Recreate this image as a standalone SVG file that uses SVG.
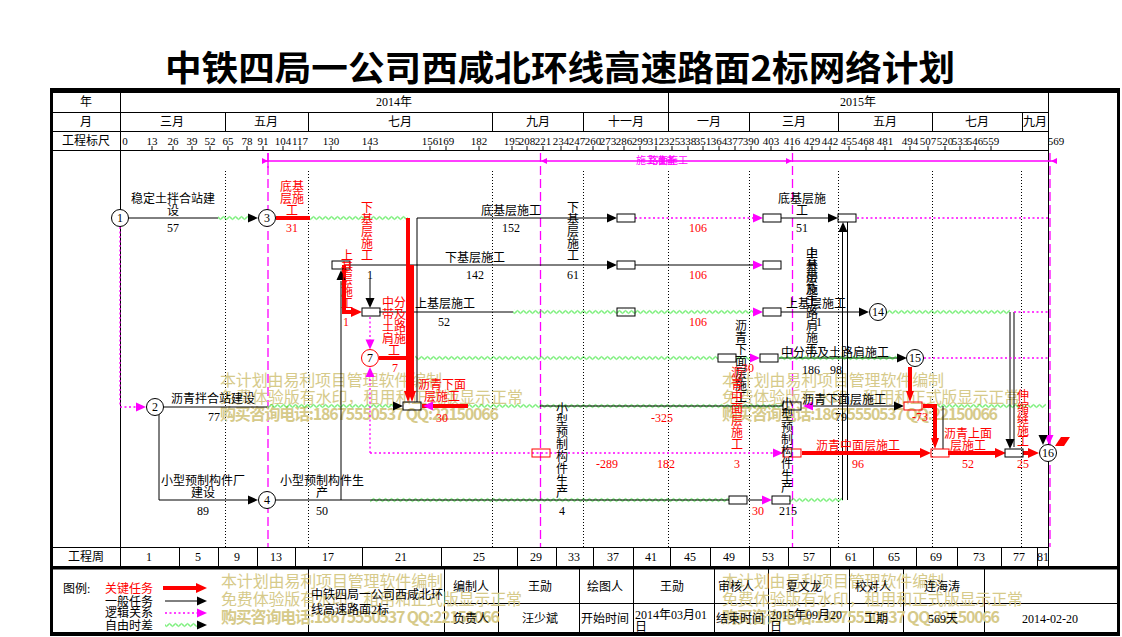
<svg xmlns="http://www.w3.org/2000/svg" width="1122" height="637" viewBox="0 0 1122 637">
<defs>
<style>
.t{font-family:"Liberation Serif","Noto Sans CJK SC",sans-serif;font-size:12px;fill:#000}
.s{font-size:11px}
.m{text-anchor:middle}
.red{fill:#f00}
.pkt{fill:#f0f;font-size:10px}
.wm{font-family:"Noto Sans CJK SC","Liberation Sans",sans-serif;font-size:16px;fill:#d6ca8a}
.wb{font-weight:bold}
.k{stroke:#000;stroke-width:1;fill:none}
.r{stroke:#f00;stroke-width:4;fill:none}
.p{stroke:#f0f;stroke-width:1.3;stroke-dasharray:2 2.5;fill:none}
.pd{stroke:#f0f;stroke-width:1.3;stroke-dasharray:9 4;fill:none}
.pl{stroke:#f0f;stroke-width:1.3;fill:none}
.dt{stroke:#000;stroke-width:1;stroke-dasharray:1 2;fill:none}
.bx{fill:none;stroke:#000;stroke-width:1}
.bxr{fill:none;stroke:#f00;stroke-width:1}
.nd{fill:#fff;stroke:#000;stroke-width:1}
.ndr{fill:#fff;stroke:#f00;stroke-width:1}
.fk{fill:#000}
.fr{fill:#f00}
.fp{fill:#f0f}
.ttl{font-family:"Noto Sans CJK SC","Liberation Sans",sans-serif;font-size:35px;font-weight:bold;fill:#000}
</style>
<pattern id="wv" patternUnits="userSpaceOnUse" x="0" y="-2.5" width="6" height="5">
<path d="M0,2.5 Q1.5,0 3,2.5 T6,2.5" fill="none" stroke="#00e000" stroke-width="1"/>
</pattern>
<path id="ar" d="M0,0 L-10,-4.5 L-10,4.5Z"/>
<path id="al" d="M0,0 L10,-4.5 L10,4.5Z"/>
<path id="ad" d="M0,0 L-4.5,-10 L4.5,-10Z"/>
<path id="au" d="M0,0 L-4.5,10 L4.5,10Z"/>
<path id="rr" d="M0,0 L-11,-5 L-11,5Z"/>
<path id="rd" d="M0,0 L-4,-11 L4,-11Z"/>
<path id="sr" d="M0,0 L-6,-3 L-6,3Z"/>
<path id="sl" d="M0,0 L6,-3 L6,3Z"/>
</defs>
<rect x="0" y="0" width="1122" height="637" fill="#fff"/>
<text class="ttl" x="165" y="81" textLength="790" lengthAdjust="spacingAndGlyphs">中铁四局一公司西咸北环线高速路面2标网络计划</text>

<g id="grid">
<rect x="50" y="88" width="1070" height="5" fill="#000"/>
<rect x="50" y="88" width="3" height="548" fill="#000"/>
<rect x="1117" y="88" width="3" height="548" fill="#000"/>
<rect x="50" y="632" width="1070" height="4" fill="#000"/>
<rect x="50" y="566" width="1070" height="3.5" fill="#000"/>
<path class="k" d="M53,112.5H1048M53,131.5H1048M53,150.5H1048M53,547.5H1048M120.5,93V566M1048.5,93V566M668.5,93V131"/>
<path class="k" d="M225.5,112V131M308.5,112V131M492.5,112V131M583.5,112V131M749.5,112V131M838.5,112V131M932.5,112V131M1022.5,112V131"/>
<path class="dt" d="M225.5,171V547M308.5,171V547M492.5,171V547M583.5,171V547M668.5,171V547M749.5,171V547M838.5,171V547M932.5,171V547M1021.5,171V547"/>
<path class="k" d="M179.5,547V566M218.5,547V566M257.5,547V566M295.5,547V566M362.5,547V566M441.5,547V566M517.5,547V566M556.5,547V566M593.5,547V566M633.5,547V566M670.5,547V566M710.5,547V566M749.5,547V566M788.5,547V566M830.5,547V566M873.5,547V566M916.5,547V566M957.5,547V566M1001.5,547V566M1037.5,547V566"/>
<path class="k" d="M152,146V150M173,146V150M192,146V150M210,146V150M228,146V150M247,146V150M263,146V150M283,146V150M300,146V150M331,146V150M370,146V150M430,146V150M446,146V150M479,146V150M512,146V150M527,146V150M543,146V150M561,146V150M577,146V150M593,146V150M608,146V150M624,146V150M640,146V150M656,146V150M672,146V150M688,146V150M703,146V150M719,146V150M735,146V150M751,146V150M771,146V150M792,146V150M812,146V150M830,146V150M849,146V150M866,146V150M885,146V150M910,146V150M928,146V150M945,146V150M960,146V150M975,146V150M991,146V150"/>
<path class="pl" d="M262,161H1056M268,153V168"/>
<path class="pd" d="M268,153V547M540.5,153V547M792.5,153V547M1050,153V547"/>
<use href="#sr" x="268" y="161" class="fp"/>
<use href="#sl" x="541" y="161" class="fp"/>
<use href="#sr" x="792" y="161" class="fp"/>
<use href="#sl" x="1051" y="161" class="fp"/>
<text class="t pkt" x="636" y="164">施工准备</text>
<text class="t pkt" x="648" y="164">路面施工</text>
<path class="k" d="M308.5,569V632" stroke-width="2"/>
<path class="k" d="M444.5,569V632M498.5,569V632M579.5,569V632M633.5,569V632M714.5,569V632M768.5,569V632M849.5,569V632M903.5,569V632M984.5,569V632M444,603.5H1117"/>
</g>

<g id="header-text">
<text class="t m" x="86" y="106">年</text>
<text class="t m" x="86" y="126">月</text>
<text class="t m" x="86" y="145">工程标尺</text>
<text class="t m" x="394" y="106">2014年</text>
<text class="t m" x="858" y="106">2015年</text>
<text class="t m" x="172" y="126">三月</text>
<text class="t m" x="266" y="126">五月</text>
<text class="t m" x="400" y="126">七月</text>
<text class="t m" x="538" y="126">九月</text>
<text class="t m" x="626" y="126">十一月</text>
<text class="t m" x="709" y="126">一月</text>
<text class="t m" x="794" y="126">三月</text>
<text class="t m" x="885" y="126">五月</text>
<text class="t m" x="977" y="126">七月</text>
<text class="t m" x="1035" y="126">九月</text>
<g class="t s m">
<text x="125" y="145">0</text><text x="152" y="145">13</text><text x="173" y="145">26</text><text x="192" y="145">39</text><text x="210" y="145">52</text><text x="228" y="145">65</text><text x="247" y="145">78</text><text x="263" y="145">91</text><text x="283" y="145">104</text><text x="300" y="145">117</text><text x="331" y="145">130</text><text x="370" y="145">143</text><text x="430" y="145">156</text><text x="446" y="145">169</text><text x="479" y="145">182</text><text x="512" y="145">195</text><text x="527" y="145">208</text><text x="543" y="145">221</text><text x="561" y="145">234</text><text x="577" y="145">247</text><text x="593" y="145">260</text><text x="608" y="145">273</text><text x="624" y="145">286</text><text x="640" y="145">299</text><text x="656" y="145">312</text><text x="672" y="145">325</text><text x="688" y="145">338</text><text x="703" y="145">351</text><text x="719" y="145">364</text><text x="735" y="145">377</text><text x="751" y="145">390</text><text x="771" y="145">403</text><text x="792" y="145">416</text><text x="812" y="145">429</text><text x="830" y="145">442</text><text x="849" y="145">455</text><text x="866" y="145">468</text><text x="885" y="145">481</text><text x="910" y="145">494</text><text x="928" y="145">507</text><text x="945" y="145">520</text><text x="960" y="145">533</text><text x="975" y="145">546</text><text x="991" y="145">559</text><text x="1056" y="145">569</text>
</g>
<g class="t m">
<text x="86" y="561">工程周</text>
<text x="149" y="561">1</text><text x="198" y="561">5</text><text x="237" y="561">9</text><text x="276" y="561">13</text><text x="328" y="561">17</text><text x="401" y="561">21</text><text x="479" y="561">25</text><text x="536" y="561">29</text><text x="574" y="561">33</text><text x="613" y="561">37</text><text x="651" y="561">41</text><text x="690" y="561">45</text><text x="729" y="561">49</text><text x="768" y="561">53</text><text x="809" y="561">57</text><text x="851" y="561">61</text><text x="894" y="561">65</text><text x="936" y="561">69</text><text x="979" y="561">73</text><text x="1019" y="561">77</text><text x="1043" y="561">81</text>
</g>
</g>

<g id="watermarks">
<text class="wm" x="220" y="386" textLength="222">本计划由易利项目管理软件编制</text>
<text class="wm" x="220" y="403" textLength="303">免费体验版有水印，租用和正式版显示正常</text>
<text class="wm wb" x="220" y="420" textLength="279">购买咨询电话:18675550537 QQ:22150066</text>
<text class="wm" x="722" y="386" textLength="222">本计划由易利项目管理软件编制</text>
<text class="wm" x="722" y="403" textLength="298">免费体验版有水印，租用和正式版显示正常</text>
<text class="wm wb" x="722" y="420" textLength="276">购买咨询电话:18675550537 QQ:22150066</text>
<text class="wm" x="221" y="587" textLength="222">本计划由易利项目管理软件编制</text>
<text class="wm" x="221" y="605" textLength="301">免费体验版有水印，租用和正式版显示正常</text>
<text class="wm wb" x="221" y="623" textLength="279">购买咨询电话:18675550537 QQ:22150066</text>
<text class="wm" x="722" y="587" textLength="222">本计划由易利项目管理软件编制</text>
<text class="wm" x="722" y="605" textLength="301">免费体验版有水印，租用和正式版显示正常</text>
<text class="wm wb" x="722" y="623" textLength="278">购买咨询电话:18675550537 QQ:22150066</text>
</g>

<g id="connectors">
<g transform="translate(0,218)"><rect x="218" y="-2.5" width="30" height="5" fill="url(#wv)"/><rect x="310" y="-2.5" width="98" height="5" fill="url(#wv)"/></g>
<g transform="translate(0,312)"><rect x="513" y="-2.5" width="240" height="5" fill="url(#wv)"/><rect x="886" y="-2.5" width="124" height="5" fill="url(#wv)"/></g>
<g transform="translate(0,358)"><rect x="415" y="-2.5" width="303" height="5" fill="url(#wv)"/><rect x="736" y="-2.5" width="14" height="5" fill="url(#wv)"/></g>
<g transform="translate(0,406)"><rect x="267" y="-2.5" width="126" height="5" fill="url(#wv)"/><rect x="468" y="-2.5" width="315" height="5" fill="url(#wv)"/><rect x="923" y="-2.5" width="123" height="5" fill="url(#wv)"/></g>
<g transform="translate(0,500)"><rect x="370" y="-2.5" width="359" height="5" fill="url(#wv)"/><rect x="789" y="-2.5" width="54" height="5" fill="url(#wv)"/></g>
<path class="k" d="M128,218H218M417,402V218H607M781,218H828M350,265H607M635,265H753M370,279V298M379,312H513M781,312H860M341,500V281M159,412V500H248M163,407H267M276,500H729M748,500H762M540,406H783M812,406H895M779,358H897M842.5,232V500M847.5,222V500M1010,312V439M1014,312V447M943,406V449"/>
<g transform="translate(0,358)"><rect x="779" y="-2.5" width="118" height="5" fill="url(#wv)"/></g>
<path class="r" d="M276,218H310M408,218V392M412,265V392M344,265V312H352M379,358H412M422,406H468M802,453H921M948,453H996M1023,453H1029M910,367V392M923,406H935V439"/>
<path class="p" d="M120,227V407H136M635,218H753M857,218H1048M370,317V340M370,453V377M370,453H773M1014,312H1048M924,358H1048"/>
<use href="#rd" x="408" y="402" class="fr"/>
<use href="#rd" x="412" y="402" class="fr"/>
<use href="#rd" x="910" y="402" class="fr"/>
<use href="#rd" x="935" y="449" class="fr"/>
<use href="#rr" x="362" y="312" class="fr"/>
<use href="#rr" x="931" y="453" class="fr"/>
<use href="#rr" x="1006" y="453" class="fr"/>
<use href="#rr" x="1039" y="453" class="fr"/>
<use href="#ar" x="146" y="407" class="fp"/>
<use href="#ar" x="763" y="218" class="fp"/>
<use href="#ar" x="763" y="265" class="fp"/>
<use href="#ar" x="763" y="312" class="fp"/>
<use href="#ar" x="760" y="358" class="fp"/>
<use href="#ar" x="783" y="453" class="fp"/>
<use href="#ar" x="772" y="500" class="fp"/>
<use href="#ad" x="370" y="349.5" class="fp"/>
<use href="#au" x="370" y="367" class="fp"/>
<use href="#al" x="423" y="406" class="fp"/>
<use href="#al" x="803" y="406" class="fp"/>
<use href="#ad" x="1049" y="445" class="fp"/>
<use href="#ar" x="258" y="218" class="fk"/>
<use href="#ar" x="617" y="218" class="fk"/>
<use href="#ar" x="617" y="265" class="fk"/>
<use href="#ar" x="838" y="218" class="fk"/>
<use href="#ar" x="869" y="312" class="fk"/>
<use href="#ar" x="907" y="358" class="fk"/>
<use href="#ar" x="403" y="406" class="fk"/>
<use href="#ar" x="904" y="406" class="fk"/>
<use href="#ar" x="258" y="500" class="fk"/>
<use href="#ad" x="370" y="308" class="fk"/>
<use href="#au" x="341" y="270" class="fk"/>
<use href="#au" x="843" y="222" class="fk"/>
<use href="#ad" x="1010" y="449" class="fk"/>
<use href="#ad" x="1043" y="445" class="fk"/>
<g class="bx">
<rect x="332" y="261" width="18" height="8"/><rect x="362" y="308" width="18" height="8"/><rect x="403" y="402" width="18" height="8"/>
<rect x="617" y="214" width="18" height="8"/><rect x="617" y="261" width="18" height="8"/><rect x="617" y="308" width="18" height="8"/>
<rect x="763" y="214" width="18" height="8"/><rect x="763" y="261" width="18" height="8"/><rect x="763" y="308" width="18" height="8"/>
<rect x="838" y="214" width="18" height="8"/><rect x="718" y="354" width="18" height="8"/><rect x="760" y="354" width="18" height="8"/>
<rect x="783" y="402" width="18" height="8"/><rect x="1005" y="449" width="18" height="8"/><rect x="729" y="496" width="18" height="8"/><rect x="772" y="496" width="18" height="8"/>
</g>
<g class="bxr">
<rect x="904" y="402" width="18" height="8"/><rect x="532" y="449" width="18" height="8"/><rect x="783" y="449" width="18" height="8"/><rect x="931" y="449" width="18" height="8"/>
</g>
<polygon points="1061,437 1070,437 1064,446 1055,446" fill="#f00"/>
</g>

<g id="n1"><circle class="nd" cx="120" cy="218" r="8.5"/><text class="t m" x="120" y="222">1</text></g>
<g id="n3"><circle class="nd" cx="267" cy="218" r="8.5"/><text class="t m" x="267" y="222">3</text></g>
<g id="n2"><circle class="nd" cx="155" cy="407" r="8.5"/><text class="t m" x="155" y="411">2</text></g>
<g id="n4"><circle class="nd" cx="267" cy="500" r="8.5"/><text class="t m" x="267" y="504">4</text></g>
<g id="n7"><circle class="ndr" cx="370" cy="358" r="8.5"/><text class="t m" x="370" y="362">7</text></g>
<g id="n14"><circle class="nd" cx="878" cy="312" r="8.5"/><text class="t m" x="878" y="316">14</text></g>
<g id="n15"><circle class="nd" cx="915" cy="358" r="8.5"/><text class="t m" x="915" y="362">15</text></g>
<g id="n16"><circle class="nd" cx="1048" cy="453" r="8.5"/><text class="t m" x="1048" y="457">16</text></g>

<g id="labels" class="t m">
<text x="173" y="202.5">稳定土拌合站建</text><text x="173" y="214.5">设</text><text x="173" y="232">57</text>
<text class="red" x="292" y="190.5">底基</text><text class="red" x="292" y="202.5">层施</text><text class="red" x="292" y="214.5">工</text><text class="red" x="292" y="232">31</text>
<text class="red" x="367" y="212"><tspan x="367">下</tspan><tspan x="367" dy="12">基</tspan><tspan x="367" dy="12">层</tspan><tspan x="367" dy="12">施</tspan><tspan x="367" dy="12">工</tspan></text>
<text x="370" y="279">1</text>
<text x="511" y="214.5">底基层施工</text><text x="511" y="232">152</text>
<text x="573" y="212"><tspan x="573">下</tspan><tspan x="573" dy="12">基</tspan><tspan x="573" dy="12">层</tspan><tspan x="573" dy="12">施</tspan><tspan x="573" dy="12">工</tspan></text>
<text x="573" y="279">61</text>
<text class="red" x="698" y="232">106</text><text class="red" x="698" y="279">106</text><text class="red" x="698" y="326">106</text>
<text x="802" y="202.5">底基层施</text><text x="802" y="214.5">工</text><text x="802" y="232">51</text>
<text class="red" x="347" y="259.5"><tspan x="347">上</tspan><tspan x="347" dy="12">基</tspan><tspan x="347" dy="12">层</tspan><tspan x="347" dy="12">施</tspan><tspan x="347" dy="12">工</tspan></text>
<text x="475" y="261.5">下基层施工</text><text x="475" y="279">142</text>
<text x="812" y="257.5"><tspan x="812">中</tspan><tspan x="812" dy="12">分</tspan><tspan x="812" dy="12">带</tspan><tspan x="812" dy="12">及</tspan><tspan x="812" dy="12">土</tspan><tspan x="812" dy="12">路</tspan><tspan x="812" dy="12">肩</tspan><tspan x="812" dy="12">施</tspan><tspan x="812" dy="12">工</tspan></text>
<text x="812" y="257.5"><tspan x="812">上</tspan><tspan x="812" dy="12">基</tspan><tspan x="812" dy="12">层</tspan><tspan x="812" dy="12">施</tspan><tspan x="812" dy="12">工</tspan></text>
<text class="red" x="346" y="326">1</text>
<text class="red" x="394" y="307">中分</text><text class="red" x="394" y="319">带及</text><text class="red" x="394" y="331">土路</text><text class="red" x="394" y="343">肩施</text><text class="red" x="394" y="355">工</text>
<text x="445" y="308">上基层施工</text><text x="444" y="326">52</text>
<text x="816" y="307.5">上基层施工</text><text x="819" y="326">1</text>
<text class="red" x="395" y="372">7</text>
<text x="835" y="356.5">中分带及土路肩施工</text><text x="811" y="373.5">186</text><text x="836" y="373.5">98</text>
<text x="741" y="329.5"><tspan x="741">沥</tspan><tspan x="741" dy="12">青</tspan><tspan x="741" dy="12">下</tspan><tspan x="741" dy="12">面</tspan><tspan x="741" dy="12">层</tspan><tspan x="741" dy="12">施</tspan><tspan x="741" dy="12">工</tspan></text>
<text class="red" x="737" y="376.5"><tspan x="737">沥</tspan><tspan x="737" dy="12">青</tspan><tspan x="737" dy="12">中</tspan><tspan x="737" dy="12">面</tspan><tspan x="737" dy="12">层</tspan><tspan x="737" dy="12">施</tspan><tspan x="737" dy="12">工</tspan></text>
<text class="red" x="748" y="372">30</text>
<text x="213" y="402.5">沥青拌合站建设</text><text x="214" y="420.5">77</text>
<text class="red" x="442" y="388.5">沥青下面</text><text class="red" x="442" y="400.5">层施工</text><text class="red" x="442" y="421.5">30</text>
<text class="red" x="662" y="421.5">-325</text>
<text x="844" y="403.5">沥青下面层施工</text><text x="841" y="420.5">79</text><text class="red" x="920" y="420.5">-73</text>
<text x="562" y="412.5"><tspan x="562">小</tspan><tspan x="562" dy="12">型</tspan><tspan x="562" dy="12">预</tspan><tspan x="562" dy="12">制</tspan><tspan x="562" dy="12">构</tspan><tspan x="562" dy="12">件</tspan><tspan x="562" dy="12">生</tspan><tspan x="562" dy="12">产</tspan></text>
<text x="562" y="515">4</text>
<text x="787" y="407.5"><tspan x="787">小</tspan><tspan x="787" dy="12">型</tspan><tspan x="787" dy="12">预</tspan><tspan x="787" dy="12">制</tspan><tspan x="787" dy="12">构</tspan><tspan x="787" dy="12">件</tspan><tspan x="787" dy="12">生</tspan><tspan x="787" dy="12">产</tspan></text>
<text class="red" x="1023" y="400"><tspan x="1023">伸</tspan><tspan x="1023" dy="11.5">缩</tspan><tspan x="1023" dy="11.5">缝</tspan><tspan x="1023" dy="11.5">施</tspan><tspan x="1023" dy="11.5">工</tspan></text>
<text class="red" x="607" y="467.5">-289</text><text class="red" x="666" y="467.5">182</text><text class="red" x="737" y="467.5">3</text>
<text class="red" x="858" y="449.5">沥青中面层施工</text><text class="red" x="858" y="467.5">96</text>
<text class="red" x="968" y="437.5">沥青上面</text><text class="red" x="968" y="449.5">层施工</text><text class="red" x="968" y="467.5">52</text>
<text class="red" x="1023" y="467.5">25</text>
<text x="203" y="484.5">小型预制构件厂</text><text x="203" y="496.5">建设</text><text x="203" y="514.5">89</text>
<text x="322" y="484.5">小型预制构件生</text><text x="322" y="496.5">产</text><text x="322" y="514.5">50</text>
<text class="red" x="758" y="514.5">30</text><text x="788" y="514.5">215</text>
</g>

<g id="legend">
<text class="t" x="63" y="592.5">图例:</text>
<text class="t red" x="105" y="592.5">关键任务</text>
<text class="t" x="105" y="605.5">一般任务</text>
<text class="t" x="105" y="617">逻辑关系</text>
<text class="t" x="105" y="629.5">自由时差</text>
<path class="r" d="M163,588H196"/>
<use href="#rr" x="207" y="588" class="fr"/>
<path class="k" d="M165,601H197"/>
<use href="#ar" x="207" y="601" class="fk"/>
<path class="p" d="M165,613H197"/>
<use href="#ar" x="207" y="613" class="fp"/>
<g transform="translate(0,625)"><rect x="165" y="-2.5" width="32" height="5" fill="url(#wv)"/></g>
<use href="#ar" x="207" y="625" class="fk"/>
</g>

<g id="footer" class="t">
<text x="311" y="598.5">中铁四局一公司西咸北环</text>
<text x="311" y="614">线高速路面2标</text>
<text class="m" x="471" y="591">编制人</text>
<text class="m" x="471" y="623">负责人</text>
<text class="m" x="540" y="591">王勋</text>
<text class="m" x="540" y="623">汪少斌</text>
<text class="m" x="605" y="591">绘图人</text>
<text class="m" x="605" y="623">开始时间</text>
<text class="m" x="672" y="591">王勋</text>
<text x="635" y="619">2014年03月01</text>
<text x="635" y="631">日</text>
<text class="m" x="736" y="591">审核人</text>
<text class="m" x="740" y="623">结束时间</text>
<text class="m" x="804" y="591">夏文龙</text>
<text x="770" y="619">2015年09月20</text>
<text x="770" y="631">日</text>
<text class="m" x="873" y="591">校对人</text>
<text class="m" x="876" y="623">工期</text>
<text class="m" x="942" y="591">连海涛</text>
<text class="m" x="943" y="623">569天</text>
<text class="m" x="1050" y="623">2014-02-20</text>
</g>
</svg>
